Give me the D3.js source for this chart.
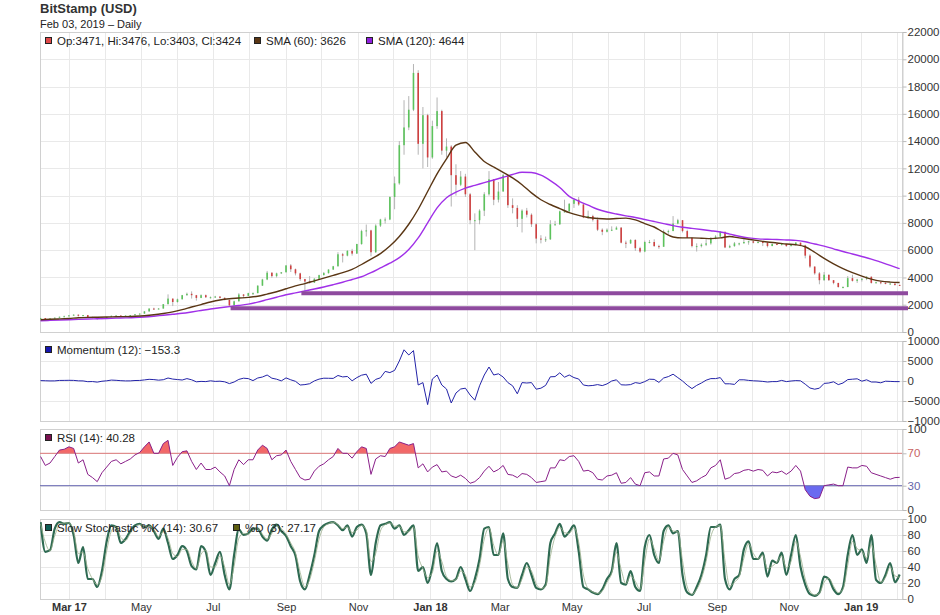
<!DOCTYPE html>
<html>
<head>
<meta charset="utf-8">
<script src="https://cdnjs.cloudflare.com/ajax/libs/d3/7.8.5/d3.min.js"></script>
<style>
  body { margin: 0; background: #fff; }
  svg text { font-family: "Liberation Sans", Arial, sans-serif; }
</style>
</head>
<body>
<svg id="chart" width="940" height="615"></svg>
<script>
// BitStamp BTC/USD daily chart, sampled every 4 days from 2017-02-05 to 2019-02-03

const firstOpen = 1010;
const priceClose = [1020,980,1000,1050,1120,1150,1220,1270,1190,1240,
1100,1050,960,1040,1100,1190,1210,1180,1210,1240,
1300,1350,1510,1720,1700,1720,2040,2450,2200,2400,
2700,2800,2700,2500,2700,2550,2550,2600,2500,2350,
1950,2250,2750,2650,2850,2850,3400,3850,4350,4100,
4300,4380,4880,4600,4300,3880,3700,3620,3900,4170,
4320,4580,4820,5700,5600,5950,5750,6450,7400,7450,
5850,7800,8250,8250,9900,10900,13700,15000,16300,19000,
13800,15900,12800,15100,16200,13300,13600,11500,10800,11400,
10100,8200,8200,8900,10100,11200,9700,10300,11500,9300,
9100,8300,8900,8600,7900,6850,6800,6800,7900,7900,
8850,8850,9400,9700,9350,8400,8500,8230,7500,7350,
7500,7500,7650,6550,6500,6750,6150,5900,6600,6600,
6300,6250,7350,7400,7950,8200,7400,6900,6300,6300,
6400,6500,6900,7000,7350,6200,6300,6500,6500,6600,
6650,6550,6600,6550,6300,6450,6400,6450,6300,6400,
6550,6350,5600,4800,4300,3800,4200,3800,3600,3300,
3300,3950,3750,3850,3900,4050,3600,3650,3600,3550,
3550,3450,3424];

const priceHigh = [1040,1030,1010,1060,1125,1200,1230,1290,1280,1250,
1250,1120,1060,1050,1110,1200,1230,1220,1220,1250,
1310,1360,1530,1730,1780,1760,2050,2760,2450,2450,
2720,2890,2980,2720,2760,2750,2600,2650,2620,2550,
2370,2300,2850,2780,2880,2900,3420,3900,4480,4370,
4350,4400,4900,4980,4650,4350,3900,4100,3950,4200,
4400,4600,4850,5850,5800,6000,6100,6470,7500,7880,
7500,7900,8300,8400,9950,11400,14000,17000,17300,19650,
19200,16500,16000,15500,17200,16300,14200,13700,12300,11800,
11600,10200,8700,9000,10250,11800,11200,11000,11600,11500,
9800,9300,9000,9100,8700,8000,7100,7000,8200,8150,
8900,9700,9450,9800,9900,9400,8900,8600,8400,7600,
7600,7750,7750,7700,6700,6800,6800,6250,6700,6750,
6800,6400,7500,7500,8500,8300,8200,7500,6950,6500,
6500,6800,6950,7100,7400,7350,6400,6600,6550,6800,
6700,6700,6650,6650,6600,6500,6500,6480,6460,6450,
6600,6560,6400,5700,4800,4400,4400,4200,3800,3600,
3350,4100,4200,3900,3950,4100,4080,3700,3700,3650,
3600,3570,3476];

const priceLow = [1000,950,970,990,1040,1110,1140,1210,1140,1150,
1080,1000,900,940,1030,1090,1170,1160,1170,1200,
1230,1290,1340,1500,1620,1660,1710,2030,1900,2150,
2390,2660,2450,2300,2480,2500,2460,2500,2460,2320,
1850,1900,2240,2500,2640,2700,2840,3380,3800,3980,
4000,4250,4370,4400,4150,3750,2980,3550,3600,3880,
4150,4280,4550,4800,5100,5550,5600,5730,6400,7000,
5550,5800,7700,7950,8200,9000,10800,13000,14800,16200,
13000,12000,12100,12700,14900,13000,12800,9200,10000,10700,
9900,7900,6000,7900,8500,10000,9300,9500,10300,9100,
8700,7700,7300,8400,7700,6500,6500,6600,6750,7800,
7850,8750,8800,9100,9250,8350,8300,8100,7400,7100,
7300,7400,7550,6500,6150,6450,5950,5800,5850,6500,
6250,6100,6250,7200,7400,7900,7300,6900,6200,5900,
6200,6300,6400,6800,6950,6150,6150,6250,6350,6500,
6400,6500,6500,6300,6200,6300,6380,6350,6250,6280,
6350,6300,5400,4700,4200,3500,3750,3750,3500,3250,
3200,3280,3700,3600,3700,3800,3550,3550,3500,3500,
3500,3400,3403];

// moving averages, sampled every 8 days
const sma60 = [900,930,960,995,1040,1070,1085,1100,1120,1130,
1150,1190,1260,1360,1480,1640,1830,2010,2200,2350,
2440,2490,2540,2620,2780,2950,3170,3380,3550,3750,
3950,4150,4350,4600,4950,5350,5750,6300,7000,7900,
9000,10300,11600,12700,13700,13900,13200,12500,12100,11700,
11300,10800,10200,9700,9350,9050,8750,8550,8400,8320,
8290,8320,8350,8220,7950,7700,7300,6970,6900,6900,
6880,6850,6900,7000,6900,6800,6700,6600,6530,6450,
6400,6250,5850,5400,5000,4650,4350,4100,3880,3730,
3660,3626];

const sma120 = [820,850,875,900,925,950,975,995,1015,1035,
1060,1100,1160,1230,1300,1370,1470,1580,1690,1780,
1860,1940,2040,2190,2370,2550,2728,2870,3010,3150,
3300,3470,3650,3850,4050,4350,4700,5050,5450,6050,
6900,8000,9100,9850,10250,10550,10750,10950,11150,11350,
11550,11720,11700,11500,11100,10600,9950,9600,9300,9000,
8800,8650,8520,8400,8250,8100,7950,7800,7680,7600,
7520,7430,7330,7180,7020,6900,6830,6800,6780,6750,
6720,6620,6450,6300,6100,5900,5720,5540,5350,5120,
4880,4644];

const momentum = [100,60,20,30,140,150,170,150,40,20,
-170,-140,-280,-60,50,230,170,80,20,30,
120,140,270,420,350,210,320,750,480,360,
250,600,300,-200,-100,-150,50,-100,-50,-200,
-650,-250,400,700,600,100,750,1000,1500,700,
450,30,780,300,-80,-1000,-900,-680,20,470,
700,680,650,1380,1020,1130,50,850,1450,1700,
-600,400,800,2400,2100,2650,5000,7800,6500,7600,
-1000,-400,-5900,500,1500,-1000,-2000,-5500,-3000,-2000,
-1800,-3500,-4800,-1200,1500,3500,1500,1800,1000,-400,
-1200,-3200,-400,-500,-400,-2050,-1800,-1100,1050,1100,
2050,950,1500,850,500,-1000,-1200,-1120,-900,-1150,
-730,0,300,-950,-1000,-900,-400,-600,-150,450,
400,-350,750,1100,1700,850,0,-1050,-1900,-1100,
-500,200,600,600,850,-700,-700,-850,300,300,
150,50,0,-100,-250,-150,-150,150,-150,0,
100,50,-800,-1750,-2050,-1800,-600,-500,-200,-900,
-500,350,450,550,-50,300,-250,-250,-450,-50,
-100,-150,-153.3];

const rsi = [66,55,58,66,74,75,78,76,58,62,
44,40,35,46,53,60,62,57,60,63,
68,71,78,84,70,70,82,86,55,65,
72,73,60,50,58,50,50,53,47,42,
30,50,62,56,62,62,74,80,76,62,
67,68,74,60,50,40,37,38,48,54,
57,62,66,76,70,70,64,72,78,76,
44,63,67,66,76,78,84,82,80,82,
52,57,47,53,56,47,48,42,40,43,
39,33,35,40,48,54,47,50,55,44,
43,40,45,44,40,34,35,36,52,52,
62,61,66,67,60,48,49,46,38,37,
42,43,46,33,34,40,32,30,46,47,
42,42,63,64,70,68,50,42,34,36,
40,43,52,55,62,38,40,45,46,49,
50,48,50,49,42,47,46,48,44,48,
55,48,25,17,14,15,30,31,32,30,
30,53,52,52,55,54,46,44,42,40,
38,40,40.28];

const stochK = [96,59,61,88,96,94,95,80,45,65,
25,25,15,35,72,92,90,70,75,85,
92,94,90,92,85,75,88,70,50,55,
66,60,41,37,66,59,30,45,59,30,
12,55,87,80,82,88,88,78,73,87,
93,85,79,66,54,22,12,30,55,85,
92,95,96,92,86,92,78,90,93,82,
30,70,92,94,96,88,92,80,86,92,
35,40,20,40,70,35,25,22,25,40,
25,10,25,50,88,90,55,55,82,25,
15,14,30,45,30,14,12,18,70,82,
94,78,84,92,60,15,12,8,6,12,
25,35,70,20,18,35,15,10,65,80,
55,45,85,92,82,85,30,8,5,15,
30,55,90,90,93,25,12,25,30,62,
72,50,50,58,28,48,45,58,30,55,
80,40,18,6,4,8,28,25,12,6,
15,55,80,55,62,45,80,24,20,30,
45,21,30.67];

const stochD = [94,71,60,79,93,95,95,85,57,58,
38,25,18,28,60,85,91,77,73,82,
90,93,91,91,87,78,84,76,57,53,
62,62,47,38,56,61,40,40,54,40,
18,41,76,82,81,86,88,81,75,82,
91,88,81,70,58,33,15,24,47,75,
90,94,96,93,88,90,83,86,92,86,
47,57,85,93,95,91,91,84,84,90,
54,38,27,33,60,47,28,23,24,35,
30,15,20,42,75,89,67,55,73,44,
18,14,25,40,35,19,13,16,53,78,
90,83,82,89,71,30,13,9,7,10,
21,32,58,37,19,29,22,12,47,75,
63,48,72,90,85,84,48,15,6,12,
25,47,78,90,92,48,16,21,28,51,
69,57,50,55,38,41,46,54,39,47,
72,53,25,10,5,7,21,26,16,8,
12,42,72,63,60,51,68,43,21,27,
40,29,27.17];

const supportLines = [
  { from: "2017-07-16", level: 1750 },
  { from: "2017-09-14", level: 2850 }
];

const priceTicks = [0,2000,4000,6000,8000,10000,12000,14000,16000,18000,20000,22000];
const momentumTicks = [-10000,-5000,0,5000,10000];
const rsiTicks = [0,30,70,100];
const stochTicks = [0,20,40,60,80,100];

const xTickDates = ["2017-03-01","2017-05-01","2017-07-01","2017-09-01","2017-11-01","2018-01-01",
  "2018-03-01","2018-05-01","2018-07-01","2018-09-01","2018-11-01","2019-01-01"];
const xTickLabels = ["Mar 17","May","Jul","Sep","Nov","Jan 18","Mar","May","Jul","Sep","Nov","Jan 19"];

// ---------- layout ----------
const left = 40, right = 902;
const svg = d3.select("#chart");

const x = d3.scaleUtc()
  .domain([new Date(Date.UTC(2017, 1, 4, 12)), new Date(Date.UTC(2019, 1, 5))])
  .range([left, right]);

const start = new Date(Date.UTC(2017, 1, 5));
const dayAt = i => d3.utcDay.offset(start, 4 * i);
const smaDayAt = i => d3.utcDay.offset(start, 8 * i);
const monthLines = d3.utcMonth.range(new Date(Date.UTC(2017, 2, 1)), new Date(Date.UTC(2019, 1, 2)));
const fmt = d3.format("d");

function makePanel(top, bottom, domain, ticks) {
  const y = d3.scaleLinear().domain(domain).range([bottom, top]);
  const g = svg.append("g");
  g.append("g").selectAll("line").data(ticks).join("line")
    .attr("x1", left).attr("x2", right)
    .attr("y1", d => Math.round(y(d)) + 0.5).attr("y2", d => Math.round(y(d)) + 0.5)
    .attr("stroke", "#e9e9e9");
  g.append("g").selectAll("line").data(monthLines).join("line")
    .attr("x1", d => Math.round(x(d)) + 0.5).attr("x2", d => Math.round(x(d)) + 0.5)
    .attr("y1", top).attr("y2", bottom)
    .attr("stroke", "#e9e9e9");
  g.append("rect")
    .attr("x", left + 0.5).attr("y", top + 0.5)
    .attr("width", right - left).attr("height", bottom - top)
    .attr("fill", "none").attr("stroke", "#d0d0d0");
  const axis = g.append("g")
    .attr("transform", `translate(${right + 0.5},0)`)
    .call(d3.axisRight(y).tickValues(ticks).tickSize(4).tickFormat(fmt));
  axis.select(".domain").attr("stroke", "#d0d0d0");
  axis.selectAll(".tick line").attr("stroke", "#bbb");
  axis.selectAll(".tick text").attr("x", 5).attr("fill", "#333")
    .style("font-size", "11.5px");
  const clipId = "clip" + top;
  svg.append("clipPath").attr("id", clipId).append("rect")
    .attr("x", left).attr("y", top).attr("width", right - left).attr("height", bottom - top);
  const plot = g.append("g").attr("clip-path", `url(#${clipId})`);
  return { y, g, plot, axis, top, bottom };
}

function legend(panel, items) {
  const lg = panel.g.append("g");
  items.forEach(it => {
    lg.append("rect").attr("x", it.x + 0.5).attr("y", panel.top + 5.5)
      .attr("width", 6).attr("height", 6)
      .attr("fill", it.color).attr("stroke", "#222");
    lg.append("text").attr("x", it.x + 12).attr("y", panel.top + 12.5)
      .attr("fill", "#222").style("font-size", "11.5px").text(it.text);
  });
}

// ---------- title ----------
svg.append("text").attr("x", left).attr("y", 13)
  .attr("fill", "#333").style("font-size", "13px").style("font-weight", "bold")
  .text("BitStamp (USD)");
svg.append("text").attr("x", left).attr("y", 28)
  .attr("fill", "#222").style("font-size", "11px")
  .text("Feb 03, 2019 \u2013 Daily");

// ---------- main price panel ----------
const main = makePanel(32, 332, [0, 22000], priceTicks);
const candles = priceClose.map((c, i) => ({
  date: dayAt(i),
  open: i ? priceClose[i - 1] : firstOpen,
  close: c, high: priceHigh[i], low: priceLow[i]
}));

main.plot.append("g").selectAll("line").data(candles).join("line")
  .attr("x1", d => x(d.date)).attr("x2", d => x(d.date))
  .attr("y1", d => main.y(d.high)).attr("y2", d => main.y(d.low))
  .attr("stroke", "#b4b4b4").attr("stroke-width", 1);

main.plot.append("g").selectAll("rect").data(candles).join("rect")
  .attr("x", d => x(d.date) - 0.8).attr("width", 1.6)
  .attr("y", d => main.y(Math.max(d.open, d.close)))
  .attr("height", d => Math.max(1, Math.abs(main.y(d.open) - main.y(d.close))))
  .attr("fill", d => d.close >= d.open ? "#5cc35c" : "#cf4040");

const smaLine = d3.line().x((d, i) => x(smaDayAt(i))).y(d => main.y(d)).curve(d3.curveMonotoneX);
main.plot.append("path").attr("d", smaLine(sma120))
  .attr("fill", "none").attr("stroke", "#a030e8").attr("stroke-width", 1.4);
main.plot.append("path").attr("d", smaLine(sma60))
  .attr("fill", "none").attr("stroke", "#5a3614").attr("stroke-width", 1.4);

svg.append("g").selectAll("line").data(supportLines).join("line")
  .attr("x1", d => x(new Date(d.from))).attr("x2", right + 6)
  .attr("y1", d => main.y(d.level)).attr("y2", d => main.y(d.level))
  .attr("stroke", "#8e4a9e").attr("stroke-width", 4);

legend(main, [
  { x: 45, color: "#e04848", text: "Op:3471, Hi:3476, Lo:3403, Cl:3424" },
  { x: 254, color: "#5a3614", text: "SMA (60): 3626" },
  { x: 366, color: "#9020e0", text: "SMA (120): 4644" }
]);

// ---------- momentum ----------
const mom = makePanel(341, 421, [-10000, 10000], momentumTicks);
const line4 = yScale => d3.line().x((d, i) => x(dayAt(i))).y(d => yScale(d));
mom.plot.append("path").attr("d", line4(mom.y)(momentum))
  .attr("fill", "none").attr("stroke", "#2323a8").attr("stroke-width", 1);
legend(mom, [{ x: 45, color: "#1616b0", text: "Momentum (12): \u2212153.3" }]);

// ---------- RSI ----------
const rs = makePanel(429, 510, [0, 100], rsiTicks);
rs.axis.selectAll(".tick text").attr("fill", d => d === 70 ? "#c86464" : d === 30 ? "#6464a8" : "#333");
svg.append("clipPath").attr("id", "rsiHigh").append("rect")
  .attr("x", left).attr("y", rs.top).attr("width", right - left).attr("height", rs.y(70) - rs.top);
svg.append("clipPath").attr("id", "rsiLow").append("rect")
  .attr("x", left).attr("y", rs.y(30)).attr("width", right - left).attr("height", rs.bottom - rs.y(30));
const rsiArea = lvl => d3.area().x((d, i) => x(dayAt(i))).y0(rs.y(lvl)).y1(d => rs.y(d));
rs.plot.append("path").attr("d", rsiArea(70)(rsi)).attr("clip-path", "url(#rsiHigh)")
  .attr("fill", "#f26868");
rs.plot.append("path").attr("d", rsiArea(30)(rsi)).attr("clip-path", "url(#rsiLow)")
  .attr("fill", "#6a6af0");
rs.plot.append("line").attr("x1", left).attr("x2", right)
  .attr("y1", rs.y(70)).attr("y2", rs.y(70)).attr("stroke", "#dc7c7c");
rs.plot.append("line").attr("x1", left).attr("x2", right)
  .attr("y1", rs.y(30)).attr("y2", rs.y(30)).attr("stroke", "#6a6ab0");
rs.plot.append("path").attr("d", line4(rs.y)(rsi))
  .attr("fill", "none").attr("stroke", "#8a208a").attr("stroke-width", 1);
legend(rs, [{ x: 45, color: "#7a1050", text: "RSI (14): 40.28" }]);

// ---------- stochastic ----------
const st = makePanel(519, 599, [0, 100], stochTicks);
legend(st, [
  { x: 45, color: "#0e5e56", text: "Slow Stochastic %K (14): 30.67" },
  { x: 233, color: "#5e5e10", text: "%D (3): 27.17" }
]);
const smooth = yScale => d3.line().x((d, i) => x(dayAt(i))).y(d => yScale(d)).curve(d3.curveMonotoneX);
st.plot.append("path").attr("d", smooth(st.y)(stochK))
  .attr("fill", "none").attr("stroke", "#2e6a52").attr("stroke-width", 2.2);
st.plot.append("path").attr("d", smooth(st.y)(stochD))
  .attr("fill", "none").attr("stroke", "#9aae8c").attr("stroke-width", 0.8);

// ---------- x axis ----------
const xAxis = svg.append("g").attr("transform", `translate(0,599)`)
  .call(d3.axisBottom(x)
    .tickValues(xTickDates.map(d => new Date(d)))
    .tickSize(0)
    .tickFormat((d, i) => xTickLabels[i]));
xAxis.select(".domain").remove();
xAxis.selectAll(".tick text")
  .attr("y", 4).attr("fill", "#333")
  .style("font-size", "11px")
  .style("font-weight", (d, i) => /\d/.test(xTickLabels[i]) ? "bold" : "normal");
</script>
</body>
</html>
